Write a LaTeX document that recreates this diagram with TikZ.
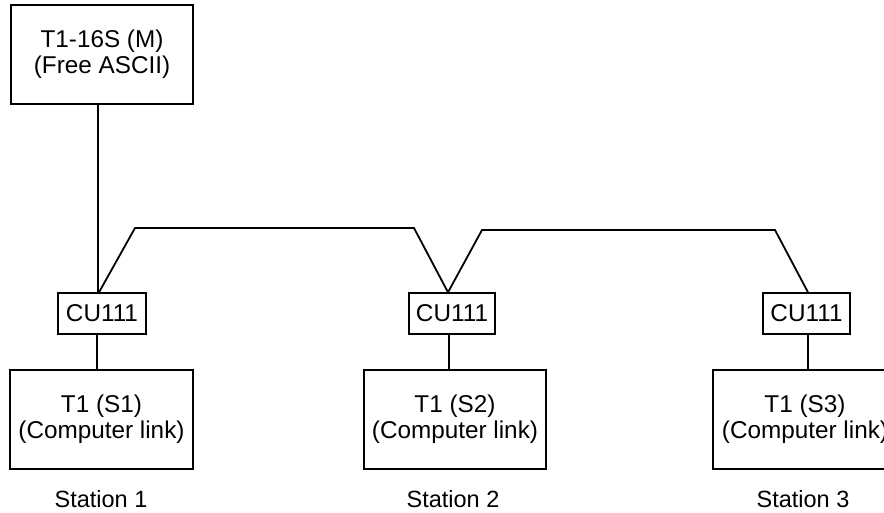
\documentclass[tikz,border=0pt]{standalone}
\usepackage{fontspec}
\setmainfont{Liberation Sans}
\begin{document}
\begin{tikzpicture}[x=1pt,y=-1pt,
  box/.style={draw,line width=1.4pt,inner sep=0pt,align=center,
    font=\fontsize{24.3}{26}\selectfont},
  lbl/.style={inner sep=0pt,font=\fontsize{23.5}{26}\selectfont},
  wire/.style={line width=1.8pt}]
\useasboundingbox (0,0) rectangle (884,512);
\clip (0,0) rectangle (884,512);
\node[box,minimum width=182pt,minimum height=99pt] (top) at (102,54.5) {T1-16S (M)\\(Free ASCII)};
\node[box,minimum width=88pt,minimum height=41pt] (cu1) at (102,313.5) {CU111};
\node[box,minimum width=86pt,minimum height=41pt] (cu2) at (452,313.5) {CU111};
\node[box,minimum width=87pt,minimum height=41pt] (cu3) at (806.5,313.5) {CU111};
\node[box,minimum width=183pt,minimum height=99pt] (s1) at (101.5,419.5) {T1 (S1)\\(Computer link)};
\node[box,minimum width=182pt,minimum height=99pt] (s2) at (455,419.5) {T1 (S2)\\(Computer link)};
\node[box,minimum width=184pt,minimum height=99pt] (s3) at (805,419.5) {T1 (S3)\\(Computer link)};
\node[lbl] (l1) at (101,499.5) {Station 1};
\node[lbl] (l2) at (453,499.5) {Station 2};
\node[lbl] (l3) at (803,499.5) {Station 3};
\coordinate (b1) at (135,228);
\coordinate (b2) at (414,228);
\coordinate (b3) at (482,230);
\coordinate (b4) at (775,230);
\coordinate (c1b) at ([xshift=-5pt]cu1.south);
\coordinate (c2b) at ([xshift=-3pt]cu2.south);
\coordinate (c3b) at ([xshift=1.5pt]cu3.south);
\draw[wire] ([xshift=-4pt]top.south) -- ([xshift=-4pt]cu1.north);
\draw[wire] ([xshift=-3pt]cu1.north) -- (b1) -- (b2) -- ([xshift=-4pt]cu2.north) -- (b3) -- (b4) -- ([xshift=1.5pt]cu3.north);
\draw[wire] (c1b) -- (c1b |- s1.north);
\draw[wire] (c2b) -- (c2b |- s2.north);
\draw[wire] (c3b) -- (c3b |- s3.north);
\end{tikzpicture}
\end{document}
